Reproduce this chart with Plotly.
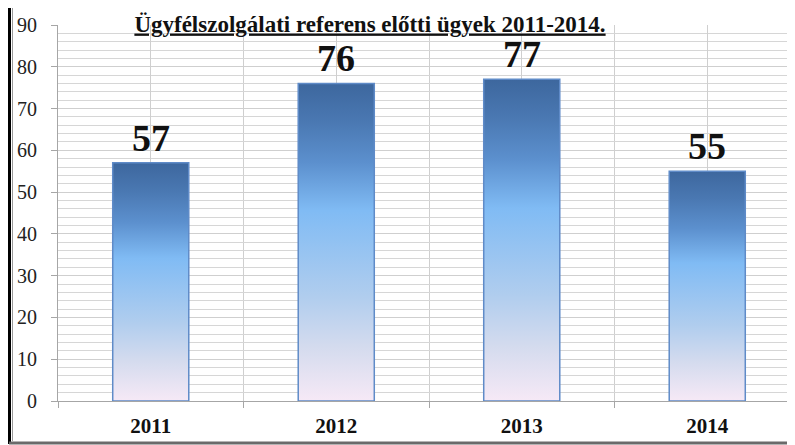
import plotly.graph_objects as go

categories = ["2011", "2012", "2013", "2014"]
values = [57, 76, 77, 55]
y_ticks = [0, 10, 20, 30, 40, 50, 60, 70, 80, 90]
title_text = "Ügyfélszolgálati referens előtti ügyek 2011-2014."

BAR_W = 0.41
FONT = "Liberation Serif"
grad = [[0.0, "#F6E9F6"], [0.17, "#D4DBEE"], [0.33, "#B0CDEE"], [0.6, "#80BBF4"],
        [0.75, "#5C90CE"], [0.88, "#4A78B2"], [1.0, "#3D679E"]]

# page offset of the figure (browser body margin)
OFF = 8
L_PAGE, T_PAGE, B_PAGE = 58, 25, 401
FIG_W, FIG_H = 795, 445
ML = L_PAGE - OFF
MT = T_PAGE - OFF
MB = FIG_H - (B_PAGE - OFF)
PLOT_W = FIG_W - ML
PLOT_H = B_PAGE - T_PAGE
UNIT_PX = 185.5

fig = go.Figure()
xs = list(range(len(categories)))
for i, v in zip(xs, values):
    fig.add_trace(go.Scatter(
        x=[i - BAR_W / 2, i + BAR_W / 2, i + BAR_W / 2, i - BAR_W / 2, i - BAR_W / 2],
        y=[0, 0, v, v, 0],
        mode="lines", fill="toself",
        fillgradient=dict(type="vertical", colorscale=grad, start=0, stop=v),
        line=dict(color="#5F8BC8", width=1.5),
        hoverinfo="skip", showlegend=False,
    ))

for i, v in zip(xs, values):
    fig.add_annotation(x=i, y=v, text=str(v), showarrow=False, yanchor="bottom", yshift=2,
                       font=dict(family=FONT, size=38, color="#111111", weight="bold"))

def px2paper_x(px):
    return (px - L_PAGE) / PLOT_W

def px2paper_y(py):
    return (B_PAGE - py) / PLOT_H

fig.add_shape(type="line", xref="paper", yref="paper",
              x0=px2paper_x(8), x1=px2paper_x(810), y0=px2paper_y(5.5), y1=px2paper_y(5.5),
              line=dict(color="#000000", width=3))
fig.add_shape(type="line", xref="paper", yref="paper",
              x0=px2paper_x(9.5), x1=px2paper_x(9.5), y0=px2paper_y(4), y1=px2paper_y(444),
              line=dict(color="#000000", width=3))
fig.add_shape(type="line", xref="paper", yref="paper",
              x0=px2paper_x(12.5), x1=px2paper_x(12.5), y0=px2paper_y(8), y1=px2paper_y(441),
              line=dict(color="#9A9A9A", width=1))
fig.add_shape(type="line", xref="paper", yref="paper",
              x0=px2paper_x(9), x1=px2paper_x(810), y0=px2paper_y(443), y1=px2paper_y(443),
              line=dict(color="#6A6A6A", width=3))

fig.update_layout(
    width=FIG_W, height=FIG_H,
    margin=dict(l=ML, r=0, t=MT, b=MB),
    paper_bgcolor="white", plot_bgcolor="white",
    title=dict(text="<b><u>" + title_text + "</u></b>", x=(370 - OFF) / FIG_W, xanchor="center",
               y=1 - (23.5 - OFF) / FIG_H, yanchor="middle",
               font=dict(family=FONT, size=23, color="#111111")),
    xaxis=dict(
        range=[-0.5, -0.5 + PLOT_W / UNIT_PX],
        tickvals=xs, ticktext=["<b>" + c + "</b>" for c in categories],
        tickfont=dict(family=FONT, size=21, color="#111111"),
        ticklabelstandoff=6,
        showgrid=True, gridcolor="#CFCFCF", gridwidth=1,
        ticks="", zeroline=False,
        showline=True, linecolor="#A6A6A6", linewidth=1,
        minor=dict(tick0=0.5, dtick=1, showgrid=True, gridcolor="#CFCFCF", gridwidth=1,
                   ticks="outside", ticklen=6, tickcolor="#A6A6A6"),
        fixedrange=True,
    ),
    yaxis=dict(
        range=[0, 90], tickvals=y_ticks,
        tickfont=dict(family=FONT, size=20, color="#222222"),
        ticklabelstandoff=10,
        showgrid=True, gridcolor="#CFCFCF", gridwidth=1,
        ticks="outside", ticklen=6, tickcolor="#A6A6A6",
        showline=True, linecolor="#A6A6A6", linewidth=1, zeroline=False,
        minor=dict(dtick=2, showgrid=True, gridcolor="#D6D6D6", gridwidth=1),
        fixedrange=True,
    ),
)

fig.write_html("out.html")
